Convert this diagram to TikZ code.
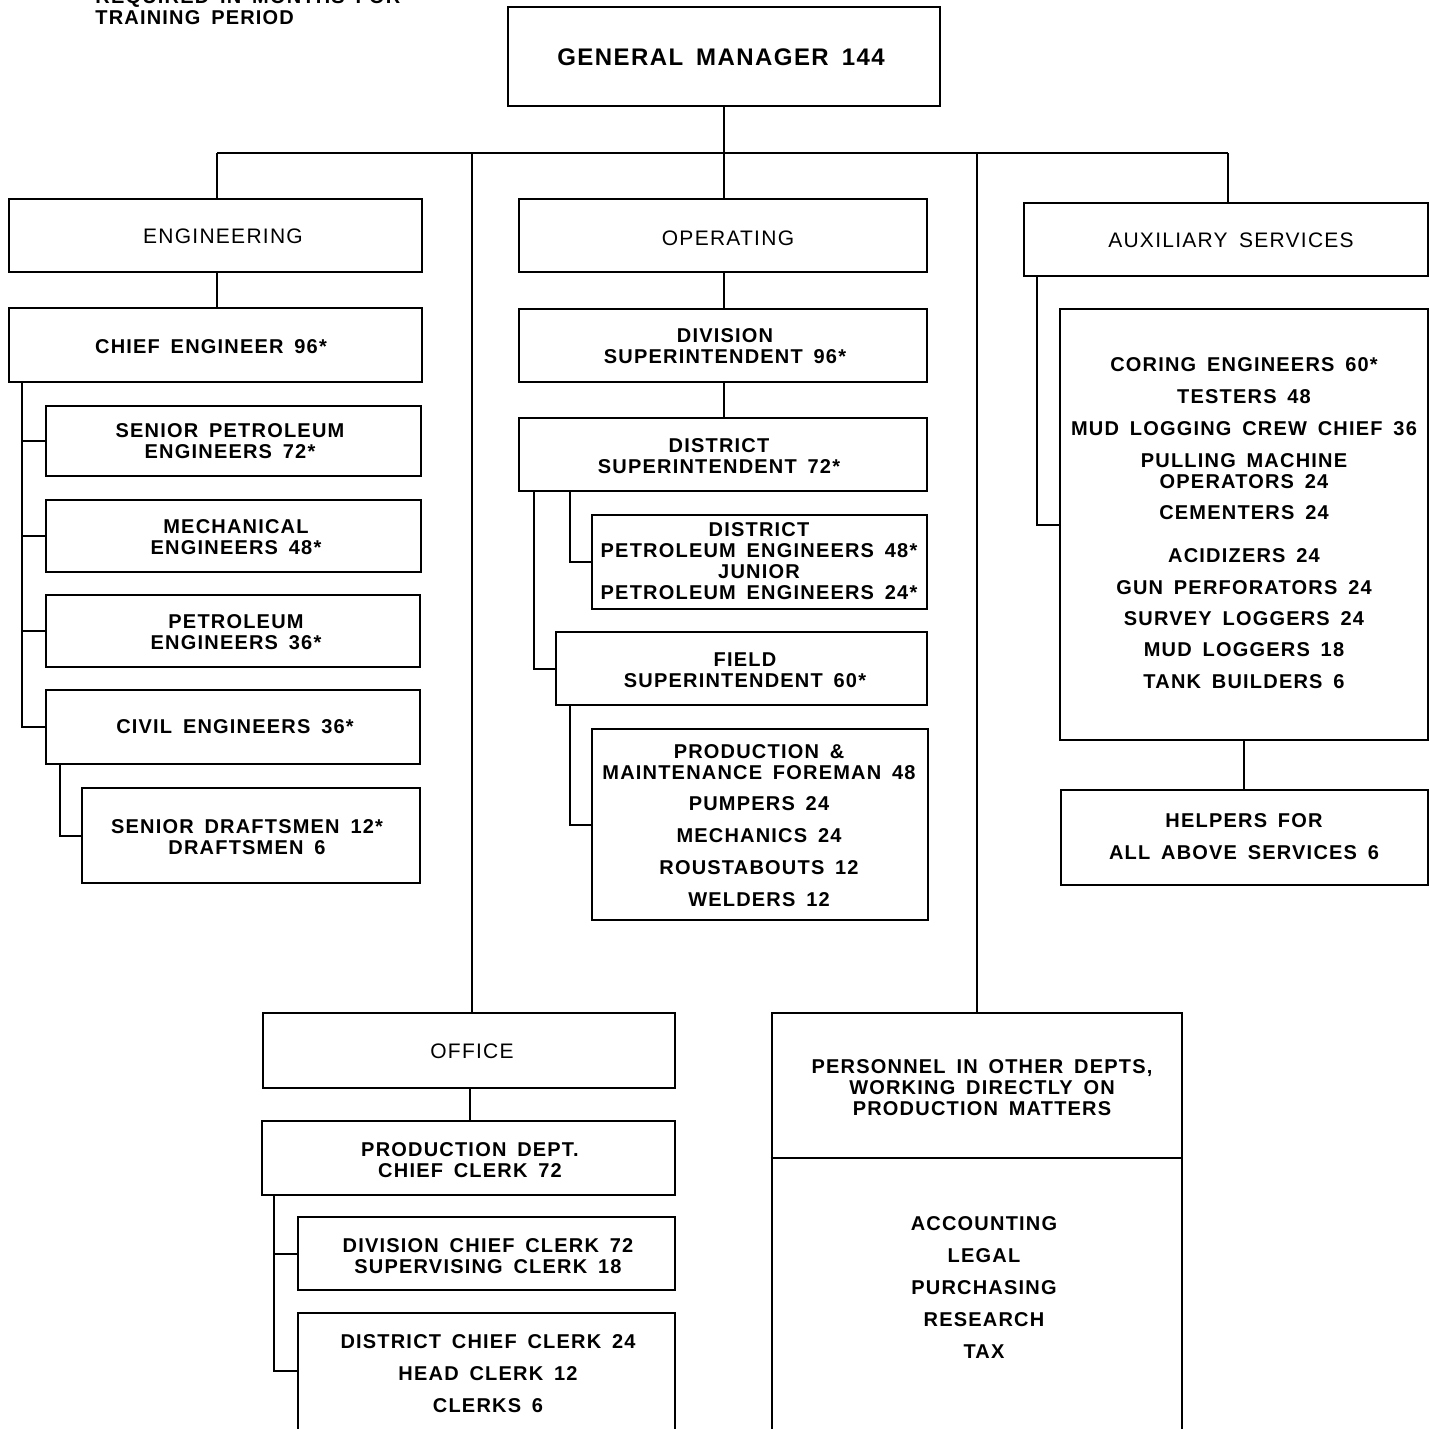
\documentclass[tikz,border=0pt]{standalone}
\usepackage{fontspec}
\setmainfont{Liberation Sans}[LetterSpace=6,WordSpace=1.6]
\usetikzlibrary{fit}
\begin{document}
\begin{tikzpicture}[x=0.5pt,y=-0.5pt,
  bx/.style={draw,line width=1.4pt,inner sep=0pt,fit={#1}},
  conn/.style={line width=1pt},
  lab/.style={align=center,inner sep=0pt,font=\bfseries\fontsize{10}{10.5}\selectfont},
  hdr/.style={align=center,inner sep=0pt,font=\fontsize{10.5}{11}\selectfont},
  big/.style={align=center,inner sep=0pt,font=\bfseries\fontsize{12}{13}\selectfont},
]
\useasboundingbox (0,0) rectangle (1429,1429);
% note text top-left
\node[lab,anchor=base west,align=left] (note) at (95,25) {REQUIRED IN MONTHS FOR\\TRAINING PERIOD};
% boxes
\node[bx={(508,7) (940,106)}] (gm) {};
\node[bx={(9,199) (422,272)}] (eng) {};
\node[bx={(9,308) (422,382)}] (ce) {};
\node[bx={(46,406) (421,476)}] (spe) {};
\node[bx={(46,500) (421,572)}] (me) {};
\node[bx={(46,595) (420,667)}] (pe) {};
\node[bx={(46,690) (420,764)}] (cv) {};
\node[bx={(82,788) (420,883)}] (sd) {};
\node[bx={(519,199) (927,272)}] (op) {};
\node[bx={(519,309) (927,382)}] (ds) {};
\node[bx={(519,418) (927,491)}] (dts) {};
\node[bx={(592,515) (927,609)}] (dpe) {};
\node[bx={(556,632) (927,705)}] (fs) {};
\node[bx={(592,729) (928,920)}] (pm) {};
\node[bx={(1024,203) (1428,276)}] (aux) {};
\node[bx={(1060,309) (1428,740)}] (auxl) {};
\node[bx={(1061,790) (1428,885)}] (help) {};
\node[bx={(263,1013) (675,1088)}] (off) {};
\node[bx={(262,1121) (675,1195)}] (pdc) {};
\node[bx={(298,1217) (675,1290)}] (dcc) {};
\node[bx={(298,1313) (675,1460)}] (dtc) {};
\node[bx={(772,1013) (1182,1460)}] (pers) {};
\coordinate (divl) at (772,1158);
\coordinate (divr) at (1182,1158);
\draw[line width=1.4pt] (pers.west|-divl) -- (pers.east|-divr);
% main bus
\coordinate (bl) at (217,153);
\coordinate (bo) at (472,153);
\coordinate (bm) at (724,153);
\coordinate (bp) at (977,153);
\coordinate (br) at (1228,153);
\draw[conn] (bl) -- (br);
\draw[conn] (gm.south-|bm) -- (bm);
\draw[conn] (bl) -- (bl|-eng.north);
\draw[conn] (bo) -- (bo|-off.north);
\draw[conn] (bm) -- (bm|-op.north);
\draw[conn] (bp) -- (bp|-pers.north);
\draw[conn] (br) -- (br|-aux.north);
% engineering
\draw[conn] (eng.south-|bl) -- (ce.north-|bl);
\coordinate (ceb) at (22,382);
\draw[conn] (ce.south-|ceb) -- (ceb|-cv.west) -- (cv.west);
\draw[conn] (ceb|-spe.west) -- (spe.west);
\draw[conn] (ceb|-me.west) -- (me.west);
\draw[conn] (ceb|-pe.west) -- (pe.west);
\coordinate (cvb) at (60,764);
\draw[conn] (cv.south-|cvb) -- (cvb|-sd.west) -- (sd.west);
% operating
\draw[conn] (op.south-|bm) -- (ds.north-|bm);
\draw[conn] (ds.south-|bm) -- (dts.north-|bm);
\coordinate (dsa) at (534,491);
\coordinate (dsb) at (570,491);
\draw[conn] (dts.south-|dsa) -- (dsa|-fs.west) -- (fs.west);
\draw[conn] (dts.south-|dsb) -- (dsb|-dpe.west) -- (dpe.west);
\draw[conn] (fs.south-|dsb) -- (dsb|-pm.west) -- (pm.west);
% auxiliary
\coordinate (axb) at (1037,276);
\draw[conn] (aux.south-|axb) -- (axb|-auxl.west) -- (auxl.west);
\coordinate (hx) at (1244,740);
\draw[conn] (auxl.south-|hx) -- (hx|-help.north);
% office
\coordinate (ofx) at (470,1088);
\draw[conn] (off.south-|ofx) -- (ofx|-pdc.north);
\coordinate (ofb) at (274,1195);
\coordinate (ofc) at (298,1371);
\draw[conn] (pdc.south-|ofb) -- (ofb|-ofc) -- (ofc);
\draw[conn] (ofb|-dcc.west) -- (dcc.west);
% texts
\node[big] (tgm) at (721,57) {GENERAL MANAGER 144};
\node[hdr] (teng) at (223,236) {ENGINEERING};
\node[lab] (tce) at (211,347) {CHIEF ENGINEER 96*};
\node[lab] (tspe) at (230,441) {SENIOR PETROLEUM\\ENGINEERS 72*};
\node[lab] (tme) at (236,537) {MECHANICAL\\ENGINEERS 48*};
\node[lab] (tpe) at (236,632) {PETROLEUM\\ENGINEERS 36*};
\node[lab] (tcv) at (235,727) {CIVIL ENGINEERS 36*};
\node[lab] (tsd) at (247,837) {SENIOR DRAFTSMEN 12*\\DRAFTSMEN 6};
\node[hdr] (top) at (728,238) {OPERATING};
\node[lab] (tds) at (725,346) {DIVISION\\SUPERINTENDENT 96*};
\node[lab] (tdts) at (719,456) {DISTRICT\\SUPERINTENDENT 72*};
\node[lab] (tdpe) at (759,561) {DISTRICT\\PETROLEUM ENGINEERS 48*\\JUNIOR\\PETROLEUM ENGINEERS 24*};
\node[lab] (tfs) at (745,670) {FIELD\\SUPERINTENDENT 60*};
\node[lab] (tpm) at (759,826) {PRODUCTION \&\\MAINTENANCE FOREMAN 48\\[5pt]PUMPERS 24\\[5.5pt]MECHANICS 24\\[5.5pt]ROUSTABOUTS 12\\[5.5pt]WELDERS 12};
\node[hdr] (taux) at (1231,240) {AUXILIARY SERVICES};
\node[lab] (tauxl) at (1244,523) {CORING ENGINEERS 60*\\[5.5pt]TESTERS 48\\[5.5pt]MUD LOGGING CREW CHIEF 36\\[5.5pt]PULLING MACHINE\\OPERATORS 24\\[5pt]CEMENTERS 24\\[11pt]ACIDIZERS 24\\[5.5pt]GUN PERFORATORS 24\\[5pt]SURVEY LOGGERS 24\\[5pt]MUD LOGGERS 18\\[5.5pt]TANK BUILDERS 6};
\node[lab] (thelp) at (1244,837) {HELPERS FOR\\[5.5pt]ALL ABOVE SERVICES 6};
\node[hdr] (toff) at (472,1051) {OFFICE};
\node[lab] (tpdc) at (470,1160) {PRODUCTION DEPT.\\CHIEF CLERK 72};
\node[lab] (tdcc) at (488,1256) {DIVISION CHIEF CLERK 72\\SUPERVISING CLERK 18};
\node[lab] (tdtc) at (488,1374) {DISTRICT CHIEF CLERK 24\\[5.5pt]HEAD CLERK 12\\[5.5pt]CLERKS 6};
\node[lab] (tpers) at (982,1088) {PERSONNEL IN OTHER DEPTS,\\WORKING DIRECTLY ON\\PRODUCTION MATTERS};
\node[lab] (tacc) at (984,1288) {ACCOUNTING\\[5.5pt]LEGAL\\[5.5pt]PURCHASING\\[5.5pt]RESEARCH\\[5.5pt]TAX};
\end{tikzpicture}
\end{document}
